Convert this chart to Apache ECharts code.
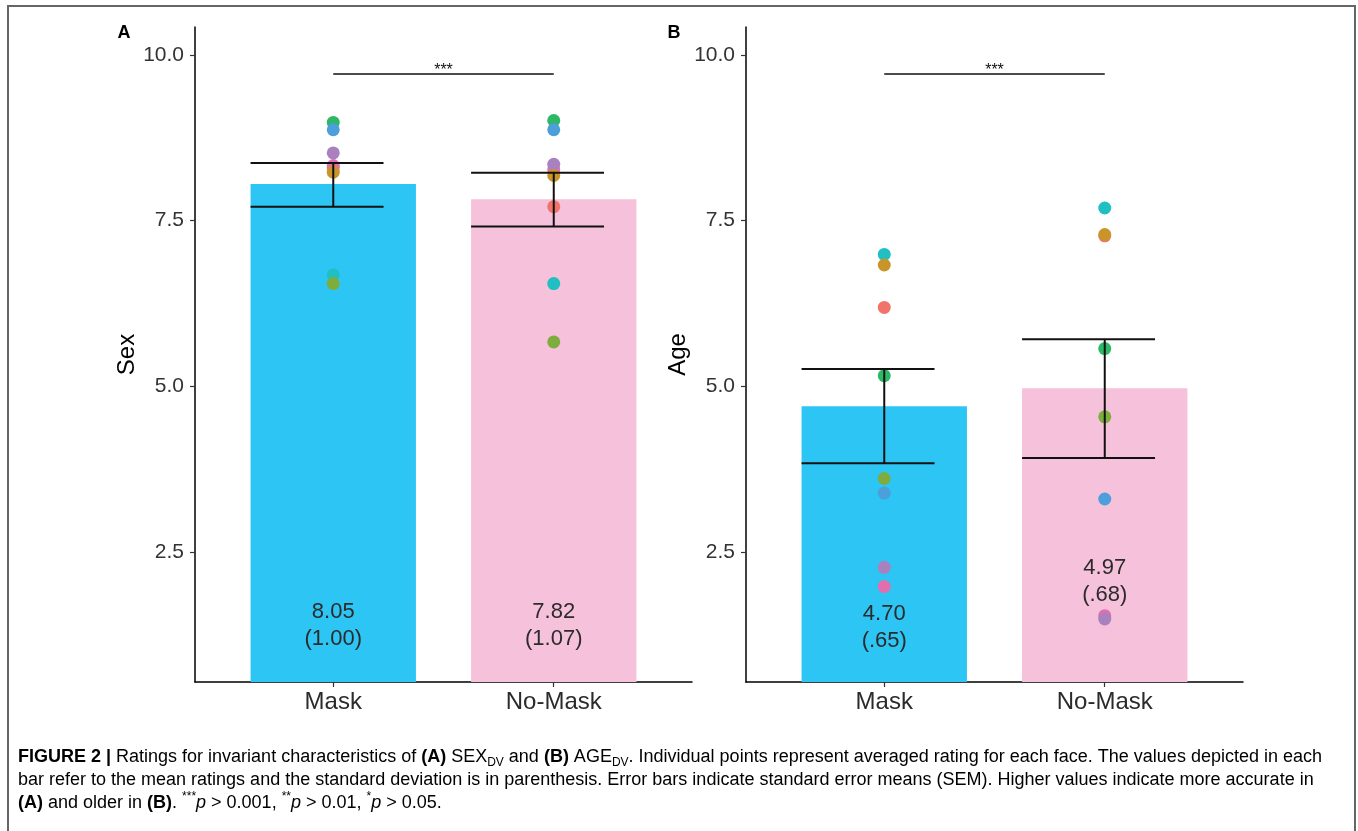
<!DOCTYPE html>
<html>
<head>
<meta charset="utf-8">
<script src="https://cdn.jsdelivr.net/npm/echarts@6/dist/echarts.min.js"></script>
<style>
  html, body { margin: 0; padding: 0; background: #fff; }
  #chart { width: 1358px; height: 831px; }
</style>
</head>
<body>
<div id="chart"></div>
<script>
// ---- data ----
const categories = ['Mask', 'No-Mask'];
const yTicks = [2.5, 5.0, 7.5, 10.0];

// Panel A: SEX ratings
const sexMeans = [8.05, 7.82];
const sexSD = ['1.00', '1.07'];
const sexErrLow = [7.71, 7.41];
const sexErrHigh = [8.37, 8.22];

// Panel B: AGE ratings
const ageMeans = [4.70, 4.97];
const ageSD = ['.65', '.68'];
const ageErrLow = [3.84, 3.92];
const ageErrHigh = [5.26, 5.71];

// Per-face averaged ratings [Mask, No-Mask], in drawing order
const faceNames = ['f1', 'f2', 'f3', 'f4', 'f5', 'f6', 'f7', 'f8'];
const sexFace = [
  [8.30, 7.71],
  [8.33, 8.27],
  [8.52, 8.35],
  [8.98, 9.01],
  [8.87, 8.87],
  [6.68, 6.55],
  [8.23, 8.18],
  [6.55, 5.67]
];
const ageFace = [
  [6.19, 7.27],
  [1.98, 1.54],
  [2.27, 1.49],
  [5.16, 5.57],
  [3.39, 3.30],
  [6.99, 7.69],
  [6.83, 7.29],
  [3.61, 4.54]
];
const sigText = '***';

// ---- styling / layout ----
const FACE_COLORS = ['#F0746A', '#E26FAD', '#A881BE', '#2DB767', '#4C9FDA', '#1FBFC2', '#C9952B', '#7EAD3E'];
const BAR_COLORS = ['#2CC5F4', '#F6C1DA'];
const Y_MIN = 0.54, Y_MAX = 10.42;
const X_MIN = 0.373, X_MAX = 2.627;
const BAR_HALF = 0.375;
const WHISK_L = 0.375, WHISK_R = 0.228;
const SIG_Y = 9.71;
const LABEL_Y = [[1.39, 1.39], [1.36, 2.06]];
const FONT = '"Liberation Sans", Arial, Helvetica, sans-serif';
const TXT = '#2b2b2b';

const GRID_TOP = 27, GRID_H = 655, GRID_W = 497;
const grids = [
  { left: 195, top: GRID_TOP, width: GRID_W, height: GRID_H },
  { left: 746, top: GRID_TOP, width: GRID_W, height: GRID_H }
];

function xAxisFor(i) {
  return {
    type: 'value', gridIndex: i, min: X_MIN, max: X_MAX,
    splitLine: { show: false },
    axisLine: { show: true, lineStyle: { color: '#000', width: 1.5 } },
    axisTick: { show: true, length: 5, lineStyle: { color: '#333', width: 1.2 }, customValues: [1, 2] },
    axisLabel: {
      customValues: [1, 2], margin: 8,
      formatter: v => categories[Math.round(v) - 1] || '',
      color: TXT, fontSize: 24, fontFamily: FONT
    }
  };
}
function yAxisFor(i, name) {
  return {
    type: 'value', gridIndex: i, min: Y_MIN, max: Y_MAX,
    name: name, nameLocation: 'middle', nameRotate: 90, nameGap: 52,
    nameTextStyle: { color: '#000', fontSize: 24, fontFamily: FONT },
    splitLine: { show: false },
    axisLine: { show: true, lineStyle: { color: '#000', width: 1.5 } },
    axisTick: { show: true, length: 5, lineStyle: { color: '#333', width: 1.2 }, customValues: yTicks },
    axisLabel: {
      customValues: yTicks, margin: 11,
      formatter: v => Number(v).toFixed(1),
      color: '#333', fontSize: 21, fontFamily: FONT
    }
  };
}

function barSeries(i, means) {
  return {
    type: 'custom', xAxisIndex: i, yAxisIndex: i, z: 1, silent: true,
    data: means.map((m, k) => [k + 1, m]),
    renderItem: (params, api) => {
      const x = api.value(0), y = api.value(1);
      const p1 = api.coord([x - BAR_HALF, y]);
      const p2 = api.coord([x + BAR_HALF, Y_MIN]);
      return {
        type: 'rect',
        shape: { x: p1[0], y: p1[1], width: p2[0] - p1[0], height: p2[1] - p1[1] },
        style: { fill: BAR_COLORS[params.dataIndex] }
      };
    }
  };
}

function labelSeries(i, means, sds) {
  return {
    type: 'custom', xAxisIndex: i, yAxisIndex: i, z: 6, silent: true,
    data: means.map((m, k) => [k + 1, LABEL_Y[i][k]]),
    renderItem: (params, api) => {
      const k = params.dataIndex;
      const p = api.coord([api.value(0), api.value(1)]);
      const font = '22px ' + FONT;
      return {
        type: 'group',
        children: [
          { type: 'text', style: { text: means[k].toFixed(2), x: p[0], y: p[1] - 13.5, fill: TXT, font: font, textAlign: 'center', textVerticalAlign: 'middle' } },
          { type: 'text', style: { text: '(' + sds[k] + ')', x: p[0], y: p[1] + 13.5, fill: TXT, font: font, textAlign: 'center', textVerticalAlign: 'middle' } }
        ]
      };
    }
  };
}

function errorSeries(i, lows, highs) {
  return {
    type: 'custom', xAxisIndex: i, yAxisIndex: i, z: 5, silent: true,
    data: lows.map((lo, k) => [k + 1, lo, highs[k]]),
    renderItem: (params, api) => {
      const x = api.value(0), lo = api.value(1), hi = api.value(2);
      const top = api.coord([x, hi]), bot = api.coord([x, lo]);
      const l = api.coord([x - WHISK_L, hi])[0], r = api.coord([x + WHISK_R, hi])[0];
      const st = { stroke: '#111', lineWidth: 2 };
      return {
        type: 'group',
        children: [
          { type: 'line', shape: { x1: top[0], y1: top[1], x2: bot[0], y2: bot[1] }, style: st },
          { type: 'line', shape: { x1: l, y1: top[1], x2: r, y2: top[1] }, style: st },
          { type: 'line', shape: { x1: l, y1: bot[1], x2: r, y2: bot[1] }, style: st }
        ]
      };
    }
  };
}

function sigSeries(i) {
  return {
    type: 'custom', xAxisIndex: i, yAxisIndex: i, z: 5, silent: true,
    data: [[1, 2, SIG_Y]],
    renderItem: (params, api) => {
      const a = api.coord([api.value(0), api.value(2)]);
      const b = api.coord([api.value(1), api.value(2)]);
      return {
        type: 'group',
        children: [
          { type: 'line', shape: { x1: a[0], y1: a[1], x2: b[0], y2: b[1] }, style: { stroke: '#111', lineWidth: 1.5 } },
          { type: 'text', style: { text: sigText, x: (a[0] + b[0]) / 2, y: a[1] + 5, fill: '#111', font: '16px ' + FONT, textAlign: 'center', textVerticalAlign: 'bottom' } }
        ]
      };
    }
  };
}

function pointSeries(i, faceData) {
  return faceData.map((vals, f) => ({
    type: 'scatter', name: faceNames[f], xAxisIndex: i, yAxisIndex: i, z: 3,
    symbolSize: 13, silent: true,
    itemStyle: { color: FACE_COLORS[f], opacity: 1 },
    data: vals.map((v, k) => [k + 1, v])
  }));
}

// ---- caption ----
const CAP = 18;
const capRich = {
  n: { fontSize: CAP, fontFamily: FONT, color: '#333', lineHeight: 24 },
  b: { fontSize: CAP, fontFamily: FONT, color: '#222', fontWeight: 'bold', lineHeight: 24 },
  i: { fontSize: CAP, fontFamily: FONT, color: '#333', fontStyle: 'italic', lineHeight: 24 },
  s: { fontSize: 12, fontFamily: FONT, color: '#333', lineHeight: 24, verticalAlign: 'bottom' },
  u: { fontSize: 12, fontFamily: FONT, color: '#333', lineHeight: 24, verticalAlign: 'top' }
};
const captionLines = [
  '{b|FIGURE 2 |}{n| Ratings for invariant characteristics of }{b|(A)}{n| SEX}{s|DV}{n| and }{b|(B)}{n| AGE}{s|DV}{n|. Individual points represent averaged rating for each face. The values depicted in each}',
  '{n|bar refer to the mean ratings and the standard deviation is in parenthesis. Error bars indicate standard error means (SEM). Higher values indicate more accurate in}',
  '{b|(A)}{n| and older in }{b|(B)}{n|. }{u|***}{i|p}{n| > 0.001, }{u|**}{i|p}{n| > 0.01, }{u|*}{i|p}{n| > 0.05.}'
];
const captionY = [757, 780, 803];

const chart = echarts.init(document.getElementById('chart'), null, { renderer: 'canvas' });
chart.setOption({
  animation: false,
  backgroundColor: '#fff',
  grid: grids,
  xAxis: [xAxisFor(0), xAxisFor(1)],
  yAxis: [yAxisFor(0, 'Sex'), yAxisFor(1, 'Age')],
  series: [
    barSeries(0, sexMeans),
    barSeries(1, ageMeans),
    ...pointSeries(0, sexFace),
    ...pointSeries(1, ageFace),
    errorSeries(0, sexErrLow, sexErrHigh),
    errorSeries(1, ageErrLow, ageErrHigh),
    sigSeries(0),
    sigSeries(1),
    labelSeries(0, sexMeans, sexSD),
    labelSeries(1, ageMeans, ageSD)
  ],
  graphic: [
    { type: 'rect', shape: { x: 8, y: 6, width: 1347, height: 840 }, style: { fill: 'none', stroke: '#666', lineWidth: 2 }, silent: true },
    { type: 'text', x: 124, y: 33, style: { text: 'A', font: 'bold 18px ' + FONT, fill: '#000', textAlign: 'center', textVerticalAlign: 'middle' } },
    { type: 'text', x: 674, y: 33, style: { text: 'B', font: 'bold 18px ' + FONT, fill: '#000', textAlign: 'center', textVerticalAlign: 'middle' } },
    ...captionLines.map((t, k) => ({
      type: 'text', x: 18, y: captionY[k],
      style: { text: t, rich: capRich, textAlign: 'left', textVerticalAlign: 'middle' }
    }))
  ]
});
</script>
</body>
</html>
